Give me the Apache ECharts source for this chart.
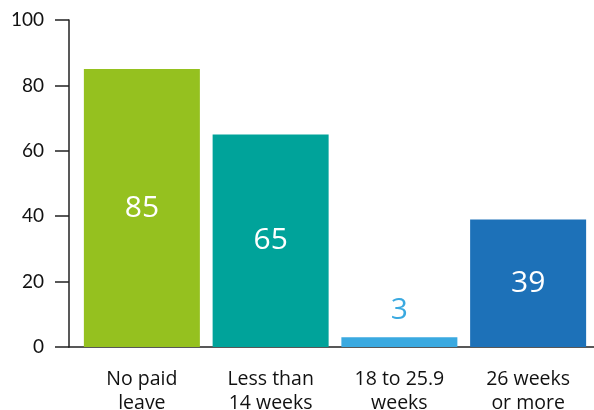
<!DOCTYPE html>
<html>
<head>
<meta charset="utf-8">
<script src="https://cdn.jsdelivr.net/npm/echarts@6/dist/echarts.min.js"></script>
<style>
  html, body { margin: 0; padding: 0; background: #fff; }
  #chart { width: 594px; height: 410px; }
</style>
</head>
<body>
<div id="chart"></div>
<script>
// data
const categories = ['No paid\nleave', 'Less than\n14 weeks', '18 to 25.9\nweeks', '26 weeks\nor more']
const values = [85, 65, 3, 39]
const barColors = ['#95C11F', '#00A39A', '#3AA9E0', '#1D71B8']
const labelColors = ['#ffffff', '#ffffff', '#3AA9E0', '#ffffff']
const labelPositions = ['inside', 'inside', 'top', 'inside']

const fontFamily = 'Lato, "Open Sans", sans-serif'
const wideFont = '"Open Sans", Lato, sans-serif'
const axisColor = '#222'

const chart = echarts.init(document.getElementById('chart'))

const option = {
  animation: false,
  grid: [
    // grid holding the y axis and the full-width baseline
    { left: 69, right: 0, top: 20, bottom: 63, outerBoundsMode: 'none' },
    // grid holding the bars
    { left: 77.5, right: 1.5, top: 20, bottom: 63, outerBoundsMode: 'none' }
  ],
  xAxis: [
    {
      gridIndex: 0,
      type: 'value',
      min: 0,
      max: 1,
      axisLine: { show: true, lineStyle: { color: axisColor, width: 1.5 } },
      axisTick: { show: false },
      axisLabel: { show: false },
      splitLine: { show: false }
    },
    {
      gridIndex: 1,
      type: 'category',
      data: categories,
      axisLine: { show: false },
      axisTick: { show: false },
      axisLabel: {
        color: '#111',
        fontFamily: wideFont,
        fontSize: 19.5,
        lineHeight: 24,
        margin: 20
      }
    }
  ],
  yAxis: [
    {
      gridIndex: 0,
      type: 'value',
      min: 0,
      max: 100,
      interval: 20,
      axisLine: { show: true, lineStyle: { color: axisColor, width: 1.5 } },
      axisTick: { show: true, length: 14, lineStyle: { color: axisColor, width: 1.5 } },
      axisLabel: {
        color: '#111',
        fontFamily: fontFamily,
        fontSize: 19,
        margin: 25
      },
      splitLine: { show: false }
    },
    {
      gridIndex: 1,
      type: 'value',
      min: 0,
      max: 100,
      show: false
    }
  ],
  series: [
    {
      type: 'bar',
      xAxisIndex: 1,
      yAxisIndex: 1,
      barWidth: 116,
      data: values.map((v, i) => ({
        value: v,
        itemStyle: { color: barColors[i] },
        label: {
          show: true,
          position: labelPositions[i],
          distance: 12,
          color: labelColors[i],
          fontFamily: wideFont,
          fontSize: 30
        }
      }))
    }
  ]
}

chart.setOption(option)
</script>
</body>
</html>
